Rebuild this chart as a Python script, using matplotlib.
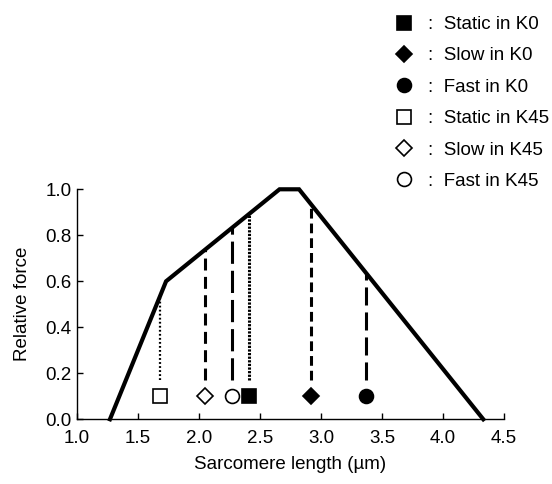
import matplotlib
matplotlib.use("Agg")
import numpy as np
import matplotlib.pyplot as plt

plt.rcParams["font.family"] = ["Liberation Sans", "DejaVu Sans"]
plt.rcParams["lines.scale_dashes"] = False

# ---------------------------
# Data
# ---------------------------
# length-tension curve
curve_x = [1.27, 1.73, 2.66, 2.82, 4.33]
curve_y = [0.0, 0.60, 1.0, 1.0, 0.0]

# conditions (order used for the legend)
cond_labels = ["Static in K0", "Slow in K0", "Fast in K0",
               "Static in K45", "Slow in K45", "Fast in K45"]
cond_x = [2.41, 2.92, 3.37, 1.68, 2.05, 2.27]
marker_y = 0.10
line_bottom = 0.17

x_ticks = [1.0, 1.5, 2.0, 2.5, 3.0, 3.5, 4.0, 4.5]
y_ticks = [0.0, 0.2, 0.4, 0.6, 0.8, 1.0]

# ---------------------------
# Styles
# ---------------------------
markers = ["s", "D", "o", "s", "D", "o"]
msizes = [10, 8, 10, 10, 8, 10]
faces = ["black", "black", "black", "white", "white", "white"]
dashes = [(1.6, 1.0), (7, 3.6), (13, 5), (1.3, 1.6), (8.6, 4.6), (16, 5)]
dash_lw = [2.2, 2.2, 2.2, 1.6, 2.2, 2.2]

fig = plt.figure(figsize=(5.52, 4.84), dpi=100)
ax = fig.add_axes([0.1395, 0.1337, 0.7736, 0.4752])

ax.plot(curve_x, curve_y, color="black", lw=3, clip_on=False,
        solid_joinstyle="miter", zorder=3)

handles = []
for lab, xv, mk, ms, fc, ds, lw in zip(cond_labels, cond_x, markers, msizes,
                                        faces, dashes, dash_lw):
    top = np.interp(xv, curve_x, curve_y)
    ax.plot([xv, xv], [line_bottom, top], color="black", lw=lw,
            dashes=ds, dash_capstyle="butt", zorder=2)
    h, = ax.plot([xv], [marker_y], linestyle="none", marker=mk,
                 markersize=ms, markerfacecolor=fc,
                 markeredgecolor="black", markeredgewidth=1.2,
                 label=":  " + lab, clip_on=False, zorder=4)
    handles.append(h)

ax.set_xlim(1.0, 4.5)
ax.set_ylim(0.0, 1.0)
ax.set_xticks(x_ticks)
ax.set_yticks(y_ticks)
ax.set_xticklabels([f"{t:.1f}" for t in x_ticks])
ax.set_yticklabels([f"{t:.1f}" for t in y_ticks])
ax.spines["top"].set_visible(False)
ax.spines["right"].set_visible(False)
for s in ("left", "bottom"):
    ax.spines[s].set_linewidth(1.0)
ax.tick_params(axis="both", direction="in", length=4, width=1.0,
               labelsize=13.5)
ax.tick_params(axis="x", pad=8)
ax.tick_params(axis="y", pad=4)

ax.set_xlabel("Sarcomere length (µm)", fontsize=13.5, labelpad=6)
ax.set_ylabel("Relative force", fontsize=13.5, labelpad=10)

fig.legend(handles=handles, loc="upper left",
           bbox_to_anchor=(0.714, 0.967), bbox_transform=fig.transFigure,
           frameon=False, fontsize=13.5, handlelength=1.0,
           handletextpad=0.8, labelspacing=0.76, borderpad=0,
           borderaxespad=0)

fig.savefig("out.png", dpi=100)
